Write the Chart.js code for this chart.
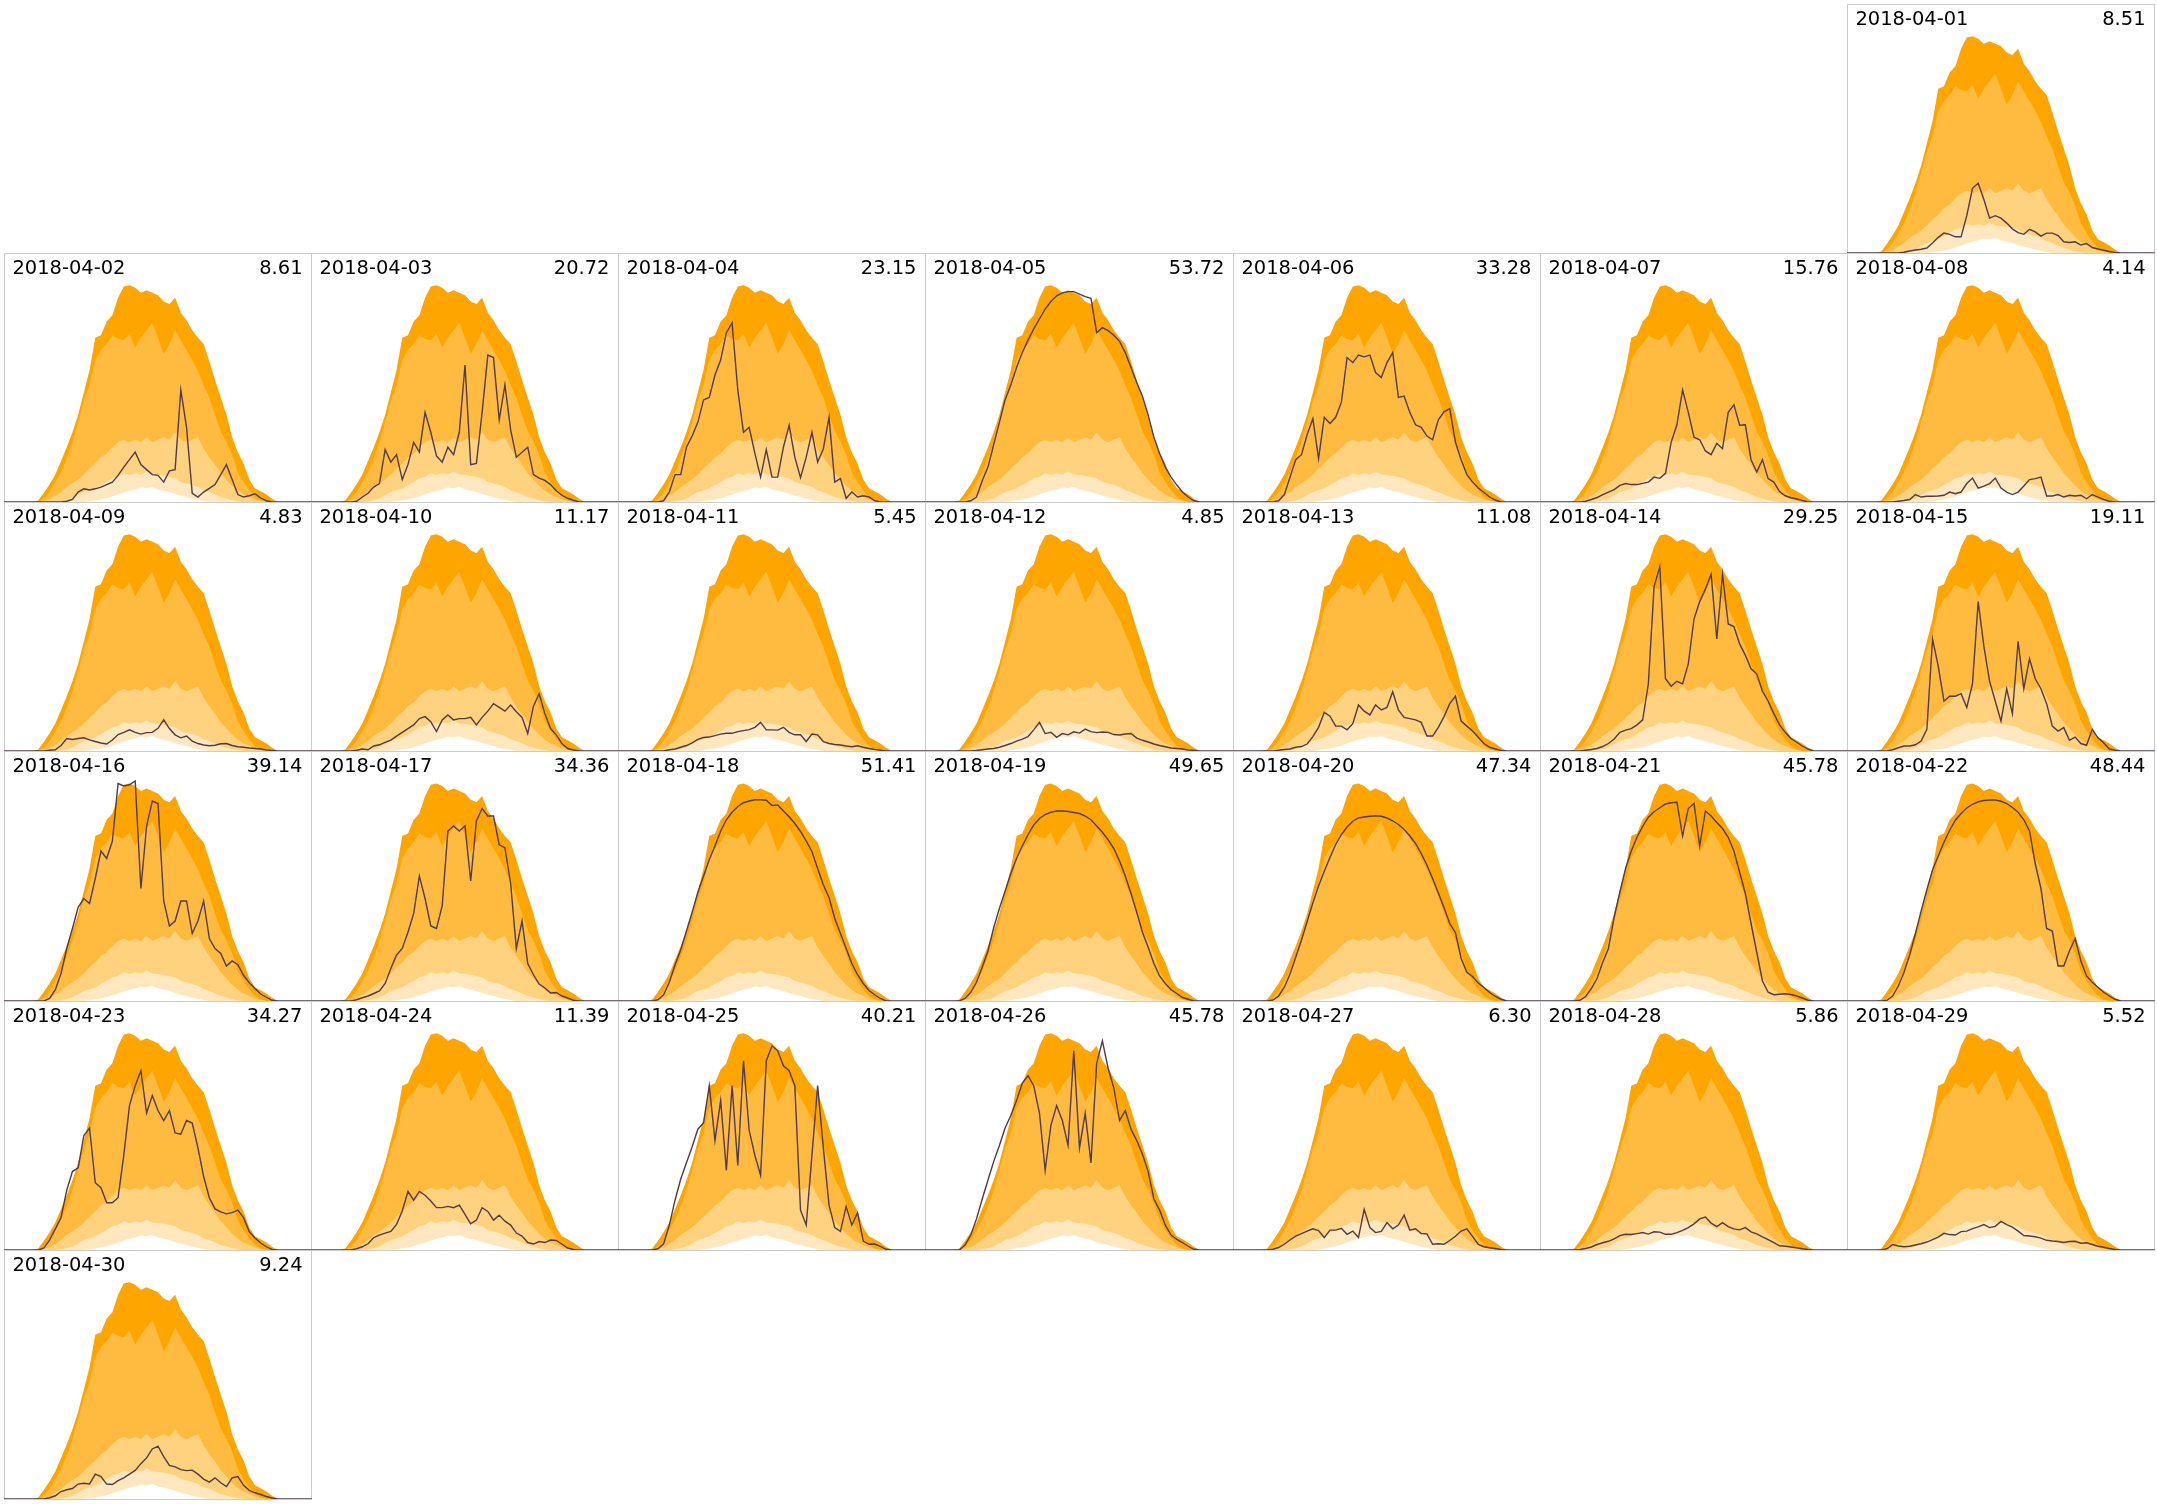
<!DOCTYPE html>
<html lang="fr">
<head>
<meta charset="utf-8">
<title>Production solaire - avril 2018</title>
<script src="https://cdn.jsdelivr.net/npm/chart.js@4.4.1/dist/chart.umd.min.js"></script>
<style>
  body { margin: 0; background: #fff; }
  #calendrier { position: relative; width: 2157px; height: 1504px; overflow: hidden; }
  .case { position: absolute; box-sizing: border-box; border: 1px solid #cccccc; }
  .case canvas { position: absolute; left: -1px; top: -1px; }
  .case span {
    position: absolute; top: 3.5px; z-index: 2;
    font-family: "DejaVu Sans", sans-serif; font-size: 19.44px; line-height: 19.44px;
    color: #000; white-space: nowrap;
  }
  .date { left: 7.5px; }
  .total { right: 8.5px; }
</style>
</head>
<body>
<div id="calendrier"></div>
<script>
// calendrier.js
// une case par jour d'avril 2018 : enveloppes de production (percentiles du mois)
// et courbe de production du jour, avec le total journalier en haut a droite

// echantillons de 06:00 a 20:00 toutes les 20 minutes (43 valeurs), zero la nuit
const HEURE_DEBUT = 6;
const PAS_HEURE = 1 / 3;
const NB_ECHANTILLONS = 43;

const JOURS = ['2018-04-01', '2018-04-02', '2018-04-03', '2018-04-04', '2018-04-05', '2018-04-06',
  '2018-04-07', '2018-04-08', '2018-04-09', '2018-04-10', '2018-04-11', '2018-04-12', '2018-04-13',
  '2018-04-14', '2018-04-15', '2018-04-16', '2018-04-17', '2018-04-18', '2018-04-19', '2018-04-20',
  '2018-04-21', '2018-04-22', '2018-04-23', '2018-04-24', '2018-04-25', '2018-04-26', '2018-04-27',
  '2018-04-28', '2018-04-29', '2018-04-30'];

const TOTAUX = [8.51, 8.61, 20.72, 23.15, 53.72, 33.28, 15.76, 4.14, 4.83, 11.17, 5.45, 4.85, 11.08,
  29.25, 19.11, 39.14, 34.36, 51.41, 49.65, 47.34, 45.78, 48.44, 34.27, 11.39, 40.21, 45.78, 6.30,
  5.86, 5.52, 9.24];

// enveloppes communes a toutes les cases (du plus haut au plus bas)
const BANDE_MAX = [0.6,3.7,7.1, 11,16.5,22, 28,35,44, 53,66,67, 72.5,75,82, 86.5,87,86, 84,85,84, 83,80.5,79.5, 82,76,73, 69,66,63.5, 56.5,49,42, 35,26,20, 15.5,9,5.5, 4.3,3,1.3, 0];
const BANDE_HAUTE = [0,1.4,4, 8,12,17.6, 24,32,40.5, 47,57,61, 63.5,67,65.5, 65,67.6,62, 66,69,72, 66,59.5,63.5, 69,65,61, 57,52.7,47, 42,35,28.4, 24.3,19,12, 8,4.7,2, 0.7,0,0, 0];
const BANDE_MEDIANE = [0,0.5,1, 2.5,4,6, 7.5,9,11, 13.5,15.5,18, 19.5,22,24, 25,24,25, 24,26,24, 25,26,25, 28,25,24, 25,26,21.5, 18,15,11.5, 9,6.5,4.5, 3,2,1, 0.4,0,0, 0];
const BANDE_BASSE = [0,0,0, 0,0.3,0.7, 1.4,2.7,4, 4.7,5.4,6.8, 8,9.5,10, 11.5,10.8,11.5, 11,12.2,11, 10.8,10.5,10, 9.5,8,7.4, 6.8,6,4.7, 4,3,2, 1.4,0.7,0.3, 0,0,0, 0,0,0, 0];
const BANDE_MIN = [0,0,0, 0,0,0, 0,0,0, 0.3,0.7,1, 1.5,2.2,3, 3.8,4.5,5, 5.8,5.5,6, 5,4.5,4, 3.2,2.5,2, 1.3,0.8,0.4, 0,0,0, 0,0,0, 0,0,0, 0,0,0, 0];

// production de chaque jour
const P01 = [0,0,0, 0,0.3,0.8, 1.2,1.5,2, 4,6.3,8, 7.5,6.5,6.5, 15,26,28, 21.5,14,15, 14,12,9.7, 8.2,7.5,9.5, 8.5,6.8,8, 8,7,4.5, 4.2,4.5,3.2, 3.8,2.2,1.6, 1.1,0.6,0.2, 0];
const P02 = [0,0,0, 0,0,0.3, 1,4,5.3, 4.8,5.3,6, 7,8,10.7, 14,17,20, 15,13,11, 10.7,8,12.5, 13,45,30, 3.5,2,4, 5.5,7,11, 15,9,3, 2,2.5,3.3, 1.6,0.5,0, 0];
const P03 = [0,0,0.3, 2,3.5,6, 7.4,21,16, 19,9,15, 24,20,36, 28,18.5,16, 22,19,28, 55,15,15.5, 36,59,58, 33,47,29, 18,20,22, 11,9.6,8.7, 7,4.5,2.7, 1.5,0.7,0, 0];
const P04 = [0,0,0.5, 4,11,11, 22,26.5,32, 41,42,51, 57,68,72, 45,28,30, 19.5,10,21, 10,10,22, 30.8,18,9.8, 18,28,16, 21.4,34,8, 9.4,1.5,4, 2,2.5,2, 0.5,0,0, 0];
const P05 = [0,0,0.5, 2,8.5,14, 23,32,41, 47,54,60, 65,69.5,73.5, 77.5,80.5,82.8, 84,84.5,84.5, 83.5,82.5,81.8, 68,70,68.8, 67,64.5,60, 54,48,42.5, 35,26,19.5, 14,10,6.8, 4,2,0.5, 0];
const P06 = [0,0,0.5, 3,10,17, 19,27,33.5, 17.4,34,31.5, 34,40,58, 56,59,58.3, 59,52,50, 56,60,42, 42.5,36,31, 30,26.5,25, 33,36.2,37.5, 24,17,11, 8,5.6,3.8, 2,0.8,0, 0];
const P07 = [0,0,0.3, 1,1.8,3, 4,5,6.7, 7.4,7,7, 7.5,8,10, 9.5,11.5,24, 31,45,36, 26,25,20.5, 19,23.5,21.4, 36,39,30.8, 31,17,12, 17,9.4,8, 4.2,2.5,1.7, 1.2,0.6,0, 0];
const P08 = [0,0,0, 0.3,0.6,1, 3,2,2.3, 2.3,2.4,2.7, 4,3.3,4, 7.4,9.6,5.6, 6.4,7.4,9.6, 5.6,4,3, 4,6.4,9, 9.4,10,2.4, 2.4,3,2, 2.7,2.4,2.7, 1.3,3,2, 1,0.3,0, 0];
const P09 = [0,0,0.3, 0.5,2.2,5, 4.6,5,5.3, 4.5,3.8,3.2, 2.8,4.4,6.6, 7.5,8.5,7.5, 6.8,7.4,7.5, 9.1,12.5,9, 6.5,5.3,6, 4,3,2.4, 2.1,2.3,2.9, 3,2.2,1.7, 1.5,1.2,1, 0.8,0.4,0.2, 0];
const P10 = [0,0,0.3, 0.8,0.5,2, 2.5,3.5,4.4, 6,7.5,9, 10.5,13,13.8, 11.8,7.8,12.5, 14.5,12.5,13, 13,13.5,10.5, 13.5,16,19, 17.5,16,18.5, 15.8,13.5,7, 18,23,15, 9,6.5,3, 1,0.4,0, 0];
const P11 = [0,0,0, 0.5,0.8,1.5, 2.2,3.3,4.7, 5.4,5.6,6.2, 6.8,7.1,7.1, 7.8,8.2,8.6, 9.5,11.5,8.5, 8.5,8.4,9.5, 7.5,6.5,6.5, 3.8,6.8,6.5, 3.8,3,2.6, 2.4,2,1.7, 2.1,1.5,1, 0.6,0.3,0, 0];
const P12 = [0,0,0, 0.2,0.5,0.8, 1,1.5,2.2, 3,4,4.8, 5.8,8.5,11.5, 7,7.5,5.5, 7,6.5,7.7, 7.2,8.8,7.8, 7.4,7.6,7.5, 6.6,6.4,6.8, 7,5.2,4.3, 3.6,2.8,2.2, 1.7,1.2,1, 0.8,0.4,0.2, 0];
const P13 = [0,0,0.3, 0.6,0.8,1.5, 1.8,2.8,5.8, 9.5,15.5,14, 10,10,8.5, 11,18.5,16, 14.5,18.5,16.5, 17.5,23.8,16.5, 13.5,13,12.5, 11.5,6,6, 9.5,13.8,19, 22,12,10, 8,5.5,3, 1.5,0.8,0.2, 0];
const P14 = [0,0,0.3, 0.6,1,1.8, 3,4.8,7.5, 8.4,9,10.5, 12.5,27,66, 74,29,26, 28,27,35, 53,60,65, 71,45,71, 51,50,43, 38.5,33,31, 24,20,15, 10.5,7.5,5, 3.5,2,0.8, 0];
const P15 = [0,0,0.5, 1.3,2,2, 2.5,4,8.7, 45,34,20, 22,22,23, 17.5,27,60, 42,28,20, 12,25,15, 44,25,37, 29,25,19, 10,8,9.4, 4.3,5.6,3, 2.3,8.7,5.3, 3.3,0.8,0.3, 0];
const P16 = [0,0,1, 4.5,11,21, 29,37.5,41, 39,49,60, 57,64,87, 86,86.5,88, 45,70,80, 79,40,30, 32,40,40, 27,32,40, 25,21,19, 14,16,14.5, 10.3,7.3,5, 2.8,1.5,0.3, 0];
const P17 = [0,0,0.5, 1.3,2,3, 4,7,13, 18.4,21,27.5, 35,50,41, 30,29,38, 68,70,68, 70,48,72, 77,74,74, 62.5,61.3,47, 21,32,15, 10.5,6.8,5.2, 3.2,3.4,2, 1.2,0.3,0, 0];
const P18 = [0,0.5,2.5, 7.5,14.5,20.5, 28,35.5,43.5, 50,56.5,62, 68,72.5,75.5, 77.8,79.3,80, 80.5,80.5,80.3, 78.2,78.4,76, 73.7,71,67.8, 64,59.8,53, 46.5,41.4,33, 27,21,15, 10.5,7,4.2, 2.5,1,0, 0];
const P19 = [0,1,3.5, 7.5,13.5,20, 29.3,37,44, 51,57,62, 66.5,70.4,73, 74.6,75.5,76, 76,75.8,75.4, 75,74,72.5, 70,67.5,64.5, 61,56,50, 43,35.5,27.5, 21.5,15,10, 7,4.5,3, 1.4,0.7,0, 0];
const P20 = [0,0.4,2, 5.5,10.8,17.5, 24.3,31.8,39.2, 46,51.9,57.4, 62.6,66.5,69.6, 71.9,73.2,73.6, 73.9,74.1,73.9, 73.2,72.1,70.6, 68.6,66,63, 59,54.3,49, 43.2,37.3,31, 27.3,17,11.5, 9.8,7.2,5.4, 3.4,1.8,0.7, 0];
const P21 = [0,0.3,1.8, 5,9,15.5, 21,33.5,43.6, 53,60,65.5, 69.8,73.5,75.7, 77.3,78.8,79.3, 79.5,66,77, 79,62,76, 74,71.4,69, 65.5,60,51.5, 43,31,19.5, 8,3.5,2.5, 2.7,2.9,2.6, 2,1.2,0.3, 0];
const P22 = [0,0.3,2, 6,11.5,18.5, 27,36,44.5, 52.5,58,63.5, 68.3,72.3,75, 77.2,78.7,79.7, 80.2,80.4,80.4, 79.9,79,77.4, 75.5,72.5,68, 55,45,29, 28,14,14, 20,25,16, 10,7.5,5.5, 3.5,2,0.7, 0];
const P23 = [0,0.8,4, 8.5,13,24, 31.5,33,46, 49,27,25, 19,19,21, 38,58,66, 72,55,62, 56,52,56, 47,46.5,52, 51,41,29.5, 21,16.5,15.3, 14.5,15,16, 13,7.3,4.8, 2.8,1.3,0.2, 0];
const P24 = [0,0,0.5, 1.3,2.5,5, 6,6.8,7.5, 10.3,15.7,23.5, 20,23.5,22, 19.7,17,17, 17.5,17,18, 14.3,10.5,12, 17,15.5,12, 14,11.6,10, 6.8,5.6,3, 2.4,3.4,3, 4,3.8,2.3, 0.8,0.2,0, 0];
const P25 = [0,0.5,2.5, 10,20,28.5, 35,41.5,48.5, 51,66,44, 60,32,66, 34,76,48, 38,30,76, 82,80,74, 72,66,16, 10,38,66, 41,18,9, 7.5,17.5,10, 15,3.6,2.3, 2.4,1.5,0.3, 0];
const P26 = [0,2,6, 12.5,20.5,28, 35.5,42,49, 54,60,67, 70,66,55, 32,50,58, 52,42,80, 41,55,35, 75,84,73, 65,52,56, 48.5,44,38.5, 31.5,20.5,16, 10,6,4.3, 3,1.5,0.3, 0];
const P27 = [0,0.3,1, 2.3,4,5.6, 6.6,7.6,8.5, 7.8,5,8, 8,8.7,6.3, 7.6,5,16.3, 9,7,7.5, 11,8.5,10, 14,8,8.5, 6.6,6.5,2.3, 2.5,2.3,3.8, 5.5,7.6,8.5, 5.5,2.2,1.3, 0.9,0.6,0.2, 0];
const P28 = [0,0.2,0.6, 1.2,2.2,2.9, 3.5,4.5,5.8, 6.3,6.2,6.6, 7,6.4,7.3, 7.2,6.3,6.3, 7,7.9,9, 10.5,12.5,13.2, 10.8,9.4,11, 9.4,8.5,8.1, 9,7.3,6.5, 5.3,4.2,3, 1.7,1.5,1.2, 0.9,0.5,0.2, 0];
const P29 = [0,0.5,2.2, 1.6,1.3,1.5, 2,2.5,3.2, 4.2,5.2,6.7, 6.2,6,7.4, 7.6,8.6,9.3, 10.2,9,9.5, 11.5,10.2,9.2, 7.6,5.8,5.6, 5.3,4.8,3.9, 3.6,3.4,3, 3.4,3.5,2.7, 2.9,2.2,1.5, 1.1,0.6,0.2, 0];
const P30 = [0,0,0.5, 1.3,3,3.7, 4.2,6,6.3, 6,10,9, 6,5.8,7.4, 8.5,10,11.5, 14.2,16.5,20.1, 21.2,17,13.5, 12.9,11.8,11.4, 11.6,10,8, 6.8,8.5,6.5, 5,8.5,9, 5.5,3.5,2.5, 1.8,1,0.4, 0];

const PRODUCTIONS = [P01, P02, P03, P04, P05, P06, P07, P08, P09, P10, P11, P12, P13, P14, P15,
  P16, P17, P18, P19, P20, P21, P22, P23, P24, P25, P26, P27, P28, P29, P30];

// mise en page du calendrier (lundi -> dimanche, le 1er avril 2018 est un dimanche)
const DECALAGE = 6;
const ORIGINE_X = 4, PAS_X = 307.16;
const ORIGINE_Y = 3.5, PAS_Y = 249.3;
const AXE_X_MIN = 4, AXE_X_MAX = 22;  // heures
const AXE_Y_MAX = 100;

// couleurs des enveloppes et de la courbe
const COULEURS_BANDES = ['#ffa500', '#ffbb40', '#ffd280', '#ffe8bf', '#ffffff'];
const COULEUR_COURBE = '#4f3b4b';

const erreurs = [];

// transforme une serie de 43 valeurs en points {x, y}, avec zero la nuit
function versPoints(valeurs, nom) {
    if (valeurs.length !== NB_ECHANTILLONS) {
        erreurs.push(nom + ' : ' + valeurs.length + ' valeurs');
    }
    const points = [{ x: AXE_X_MIN, y: 0 }, { x: HEURE_DEBUT - PAS_HEURE, y: 0 }];
    valeurs.forEach((v, i) => points.push({ x: HEURE_DEBUT + i * PAS_HEURE, y: v }));
    const fin = HEURE_DEBUT + (valeurs.length - 1) * PAS_HEURE;
    points.push({ x: fin + PAS_HEURE, y: 0 }, { x: AXE_X_MAX, y: 0 });
    return points;
}

const bandes = [BANDE_MAX, BANDE_HAUTE, BANDE_MEDIANE, BANDE_BASSE, BANDE_MIN];
const pointsBandes = bandes.map((b, i) => versPoints(b, 'bande ' + i));

// fonction de creation d'une case du calendrier
function tracerCase(i) {
    const idx = i + DECALAGE;
    const ligne = Math.floor(idx / 7);
    const col = idx % 7;
    const x0 = Math.round(ORIGINE_X + col * PAS_X);
    const x1 = Math.round(ORIGINE_X + (col + 1) * PAS_X);
    const y0 = Math.round(ORIGINE_Y + ligne * PAS_Y);
    const y1 = Math.round(ORIGINE_Y + (ligne + 1) * PAS_Y);
    const largeur = x1 - x0 + 1;
    const hauteur = y1 - y0 + 1;

    const carte = document.createElement('div');
    carte.className = 'case';
    carte.style.left = x0 + 'px';
    carte.style.top = y0 + 'px';
    carte.style.width = largeur + 'px';
    carte.style.height = hauteur + 'px';

    const canvas = document.createElement('canvas');
    canvas.width = largeur;
    canvas.height = hauteur;
    carte.appendChild(canvas);

    const date = document.createElement('span');
    date.className = 'date';
    date.textContent = JOURS[i];
    carte.appendChild(date);

    const total = document.createElement('span');
    total.className = 'total';
    total.textContent = TOTAUX[i].toFixed(2);
    carte.appendChild(total);

    document.getElementById('calendrier').appendChild(carte);

    // les enveloppes sont dessinees de la plus haute a la plus basse, la courbe par-dessus
    const datasets = pointsBandes.map((pts, k) => ({
        data: pts,
        fill: 'origin',
        backgroundColor: COULEURS_BANDES[k],
        borderColor: 'rgba(0,0,0,0)',
        borderWidth: 0,
        pointRadius: 0,
        order: 5 - k
    }));
    datasets.push({
        data: versPoints(PRODUCTIONS[i], JOURS[i]),
        fill: false,
        borderColor: COULEUR_COURBE,
        borderWidth: 1.4,
        pointRadius: 0,
        order: 0
    });

    new Chart(canvas.getContext('2d'), {
        type: 'line',
        data: { datasets: datasets },
        options: {
            responsive: false,
            animation: false,
            events: [],
            layout: { padding: { top: 0, left: 0, right: 0, bottom: 1 } },
            plugins: { legend: { display: false }, tooltip: { enabled: false } },
            elements: { line: { tension: 0 } },
            scales: {
                x: { type: 'linear', min: AXE_X_MIN, max: AXE_X_MAX, display: false },
                y: { min: 0, max: AXE_Y_MAX, display: false }
            }
        }
    });
}

JOURS.forEach((jour, i) => tracerCase(i));

if (erreurs.length) {
    throw new Error('Series incompletes : ' + erreurs.join(' ; '));
}
</script>
</body>
</html>
